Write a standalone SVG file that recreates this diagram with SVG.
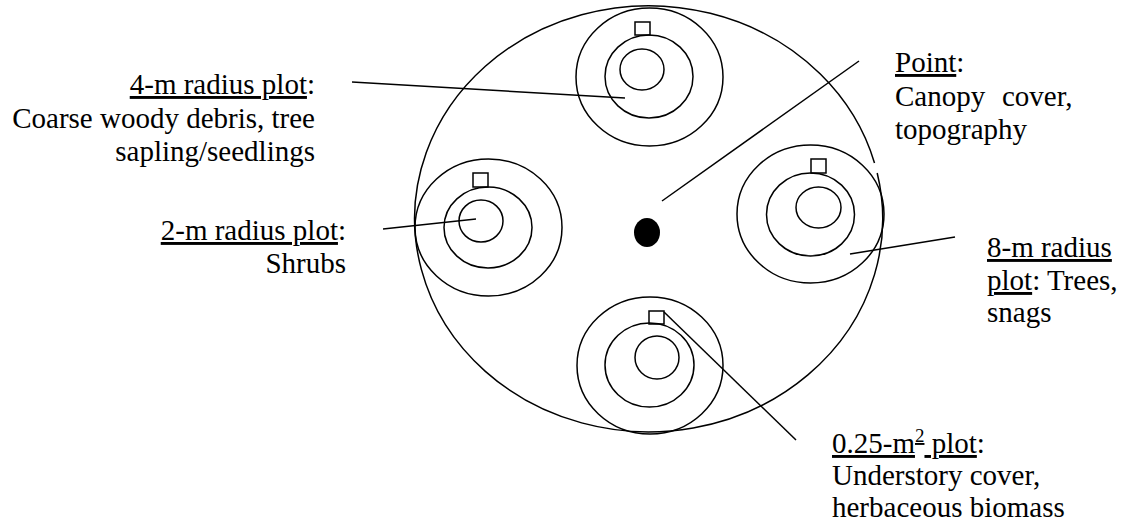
<svg xmlns="http://www.w3.org/2000/svg" width="1123" height="525" viewBox="0 0 1123 525">
<style>
.ln{fill:none;stroke:#000;stroke-width:1.5}
.t{font-family:"Liberation Serif","Times New Roman",serif;font-size:29px;fill:#000}
.u{text-decoration:underline}
</style>
<rect width="1123" height="525" fill="#fff"/>
<g id="boundary">
<path class="ln" d="M 877.2 173 A 234 213 0 1 1 874.5 163"/>
</g>
<g id="plot-top">
<ellipse class="ln" cx="649.5" cy="77" rx="73.5" ry="69"/>
<ellipse class="ln" cx="649" cy="76.5" rx="44" ry="41.5"/>
<ellipse class="ln" cx="642" cy="69.5" rx="22" ry="20.5"/>
<rect class="ln" x="635" y="22" width="15" height="13"/>
</g>
<g id="plot-left">
<ellipse class="ln" cx="488.5" cy="227.5" rx="73.5" ry="68.5"/>
<ellipse class="ln" cx="488" cy="227.5" rx="44" ry="40.5"/>
<ellipse class="ln" cx="481" cy="221" rx="22" ry="21"/>
<rect class="ln" x="473" y="173" width="15" height="14"/>
</g>
<g id="plot-right">
<ellipse class="ln" cx="810.5" cy="214" rx="73.5" ry="69"/>
<ellipse class="ln" cx="810.5" cy="214.5" rx="44" ry="41.5"/>
<ellipse class="ln" cx="818.5" cy="207.5" rx="22.5" ry="20.5"/>
<rect class="ln" x="811" y="159" width="15" height="14"/>
</g>
<g id="plot-bottom">
<ellipse class="ln" cx="650" cy="365.5" rx="73" ry="68.5"/>
<ellipse class="ln" cx="649.5" cy="365" rx="44.5" ry="42"/>
<ellipse class="ln" cx="657" cy="357.5" rx="22" ry="21.5"/>
<rect class="ln" x="649" y="311" width="15" height="13"/>
</g>
<g id="center-point">
<ellipse cx="647" cy="232.5" rx="13" ry="14.5" fill="#000"/>
</g>
<g id="connectors">
<line class="ln" x1="352" y1="82" x2="625" y2="98"/>
<line class="ln" x1="662" y1="201" x2="859" y2="61"/>
<line class="ln" x1="383" y1="229" x2="476" y2="219"/>
<line class="ln" x1="850" y1="254" x2="955" y2="237"/>
<line class="ln" x1="664" y1="312" x2="796" y2="440"/>
</g>
<g id="label-4m">
<text class="t" text-anchor="end"><tspan x="315" y="94"><tspan class="u">4-m radius plot</tspan>:</tspan><tspan x="315" y="128">Coarse woody debris, tree</tspan><tspan x="315" y="161">sapling/seedlings</tspan></text>
</g>
<g id="label-2m">
<text class="t" text-anchor="end"><tspan x="346" y="240"><tspan class="u">2-m radius plot</tspan>:</tspan><tspan x="346" y="273">Shrubs</tspan></text>
</g>
<g id="label-point">
<text class="t"><tspan x="895" y="72"><tspan class="u">Point</tspan>:</tspan><tspan x="895" y="106">Canopy</tspan><tspan x="1002" y="106">cover,</tspan><tspan x="895" y="139">topography</tspan></text>
</g>
<g id="label-8m">
<text class="t"><tspan x="987" y="257" class="u">8-m radius</tspan><tspan x="987" y="290"><tspan class="u">plot</tspan>: Trees,</tspan><tspan x="987" y="322">snags</tspan></text>
</g>
<g id="label-quadrat">
<text class="t"><tspan x="832" y="453"><tspan class="u">0.25-m</tspan><tspan class="u" font-size="19" dy="-11">2</tspan><tspan class="u" dy="11"> plot</tspan>:</tspan><tspan x="832" y="485">Understory cover,</tspan><tspan x="832" y="517">herbaceous biomass</tspan></text>
</g>
</svg>
